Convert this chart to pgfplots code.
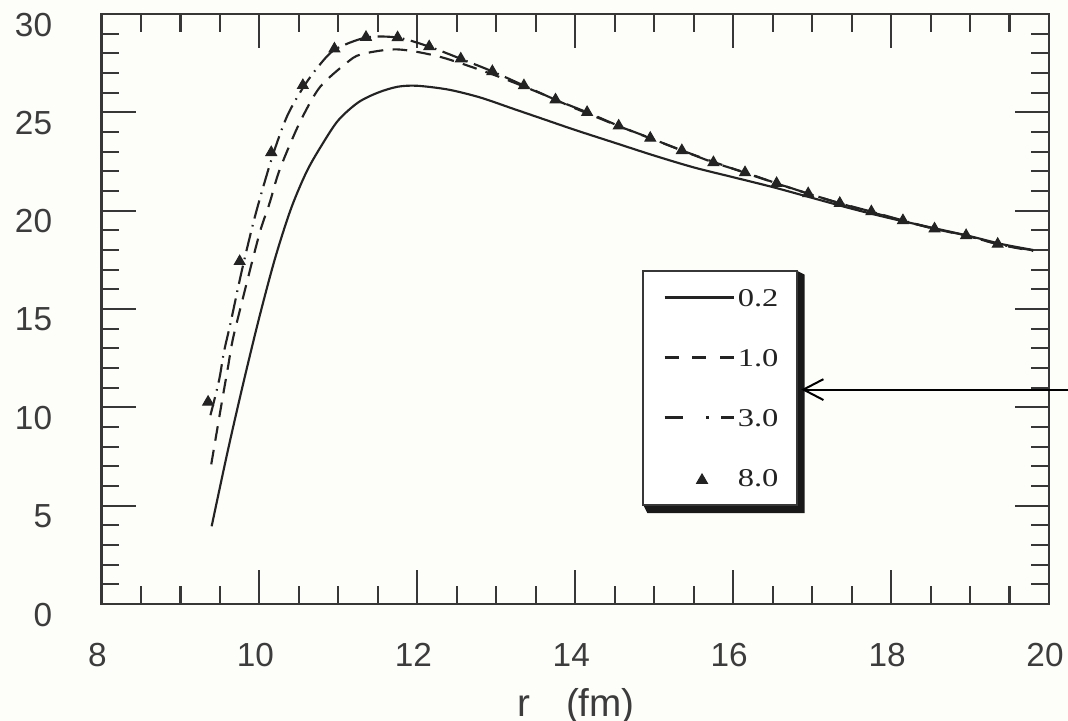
\documentclass[border=0pt]{standalone}
\usepackage{fontspec}
\setmainfont{Liberation Sans}
\newfontfamily\seriffont{Liberation Serif}
\usepackage{graphicx}
\usepackage{pgfplots}
\pgfplotsset{compat=1.18}
\usetikzlibrary{arrows.meta}
\definecolor{bg}{RGB}{253,253,249}
\definecolor{axcol}{RGB}{55,55,55}
\definecolor{lblcol}{RGB}{60,60,60}
\definecolor{crv}{RGB}{35,35,35}
\begin{document}
\begin{tikzpicture}
\path[use as bounding box, fill=bg] (-38.0625pt,-43.875pt) rectangle (362.4375pt,226.5pt);
% legend frame with shadow
\fill[black!90] (260.7pt,125pt) -- (263.7pt,123.5pt) -- (263.7pt,34.1pt) -- (204.7pt,34.1pt) -- (203.2pt,37.1pt) -- (260.7pt,37.1pt) -- cycle;
\draw[axcol, line width=0.8pt, fill=white] (203.2pt,37.1pt) rectangle (260.7pt,125pt);
\begin{axis}[
  at={(0pt,0pt)}, anchor=south west,
  scale only axis, width=355.3125pt, height=221.25pt,
  xmin=8, xmax=20, ymin=0, ymax=30,
  xtick={8,10,12,14,16,18,20}, ytick={0,5,10,15,20,25,30},
  minor x tick num=3, minor y tick num=4,
  tick align=inside,
  major tick length=12.8pt, minor tick length=6.6pt,
  axis line style={line width=0.8pt, draw=axcol},
  every tick/.style={line width=0.8pt, draw=axcol},
  tick label style={font=\fontsize{12.5}{14}\selectfont, text=lblcol},
  /pgf/number format/assume math mode=true,
  xticklabel style={yshift=-11.2pt, xshift=-1.5pt},
  yticklabel style={xshift=-15pt, yshift=-4pt},
  legend cell align=left,
  legend style={at={(0.5927,0.5351)}, anchor=north west, draw=none, fill=none,
    inner sep=0pt, row sep=16pt, column sep=1pt,
    nodes={inner sep=0pt, text height=6.5pt, text depth=0pt,
      font=\seriffont\fontsize{9.6}{11}\selectfont, text=crv}},
]
\addplot[crv, line width=0.8pt, smooth, tension=0.5,
  legend image code/.code={\draw[crv, line width=0.8pt] (0pt,0pt) -- (26pt,0pt);}]
coordinates {(9.395,3.95) (9.6,7.8) (9.8,11.3) (10.0,14.6) (10.2,17.6) (10.4,20.1)
 (10.6,22.0) (10.8,23.4) (11.0,24.6) (11.25,25.5) (11.5,26.0) (11.75,26.3) (12.0,26.35)
 (12.4,26.15) (12.8,25.75) (13.2,25.2) (13.6,24.65) (14.0,24.1) (14.5,23.45) (15.0,22.8)
 (15.5,22.2) (16.0,21.7) (16.5,21.2) (17.0,20.65) (17.5,20.1) (18.0,19.6) (18.5,19.15)
 (19.0,18.7) (19.4,18.3) (19.8,18.0)};
\addlegendentry{\scalebox{1.27}[1]{0.2}}
\addplot[crv, line width=0.8pt, smooth, tension=0.5, dash pattern=on 5.5pt off 3.5pt,
  legend image code/.code={\draw[crv, line width=0.8pt, dash pattern=on 5.2pt off 5.2pt] (0pt,0pt) -- (26pt,0pt);}]
coordinates {(9.39,7.1) (9.53,10.4) (9.6,12.0) (9.66,13.4) (9.75,14.9) (9.92,17.6)
 (10.02,19.1) (10.13,20.4) (10.24,21.9) (10.39,23.4) (10.55,24.8) (10.77,26.3) (11.1,27.5)
 (11.29,27.95) (11.74,28.2) (12.26,27.85) (12.8,27.15) (13.2,26.55) (13.6,25.9) (14.0,25.2)
 (14.5,24.38) (15.0,23.6) (15.5,22.84) (16.0,22.13) (16.5,21.45) (17.0,20.8) (17.5,20.2)
 (18.0,19.65) (18.5,19.12) (19.0,18.68) (19.4,18.25) (19.8,17.95)};
\addlegendentry{\scalebox{1.27}[1]{1.0}}
\addplot[crv, line width=0.8pt, smooth, tension=0.5, dash pattern=on 7pt off 2.5pt on 0.6pt off 2.5pt,
  legend image code/.code={\draw[crv, line width=0.8pt] (0pt,0pt) -- (8.1pt,0pt) (15.6pt,0pt) -- (16.6pt,0pt) (21.3pt,0pt) -- (26pt,0pt);}]
coordinates {(9.38,9.6) (9.49,11.4) (9.55,12.8) (9.635,14.3) (9.78,17.0) (9.95,19.8)
 (10.16,22.7) (10.35,24.8) (10.56,26.3) (10.76,27.4) (10.96,28.2) (11.35,28.8) (11.75,28.8)
 (12.15,28.34) (12.55,27.72) (12.95,27.08) (13.35,26.36) (13.75,25.64) (14.15,25.0)
 (14.55,24.31) (14.95,23.69) (15.35,23.06) (15.75,22.45) (16.15,21.94) (16.55,21.39)
 (16.95,20.87) (17.35,20.38) (17.75,19.95) (18.15,19.5) (18.55,19.08) (18.95,18.74)
 (19.35,18.3) (19.8,17.98)};
\addlegendentry{\scalebox{1.27}[1]{3.0}}
\addplot[only marks, mark=triangle*, mark size=2.3pt, mark options={solid, fill=crv, draw=crv},
  legend image code/.code={\path[draw=none, fill=none] (0pt,0pt) -- (26pt,0pt); \path[draw=none, fill=none, mark=triangle*, mark size=2.3pt, mark options={solid, draw=crv, fill=crv}] plot[only marks] coordinates {(14pt,-1pt)};}]
coordinates {(9.35,10.27) (9.75,17.42) (10.15,22.96) (10.55,26.37) (10.95,28.23)
 (11.35,28.82) (11.75,28.8) (12.15,28.34) (12.55,27.72) (12.95,27.08) (13.35,26.36)
 (13.75,25.64) (14.15,25.0) (14.55,24.31) (14.95,23.69) (15.35,23.06) (15.75,22.45)
 (16.15,21.94) (16.55,21.39) (16.95,20.87) (17.35,20.38) (17.75,19.95) (18.15,19.5)
 (18.55,19.08) (18.95,18.74) (19.35,18.3)};
\addlegendentry{\scalebox{1.27}[1]{8.0}}
\end{axis}
\node[anchor=base west, font=\fontsize{14.5}{16}\selectfont, text=lblcol, inner sep=0pt] at (155.7pt,-42.3pt) {r\hspace{13.5pt}(fm)};
\draw[black, line width=0.75pt, -{Straight Barb[length=7.5pt,width=7.8pt]}] (362.6pt,80.4pt) -- (262.4pt,80.4pt);
\end{tikzpicture}
\end{document}
